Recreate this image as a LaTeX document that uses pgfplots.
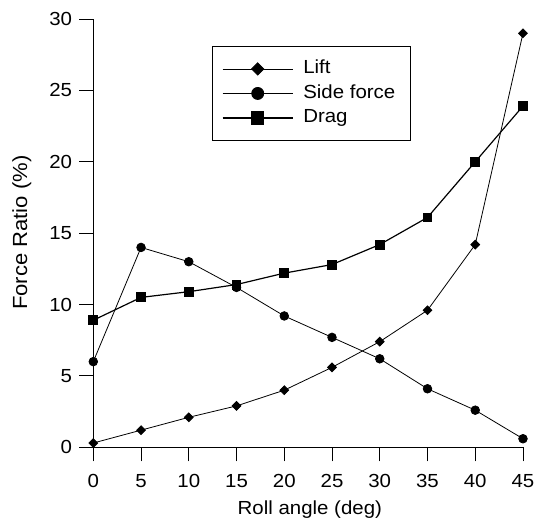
\documentclass[border=0pt]{standalone}
\usepackage{fontspec}
\setmainfont{Liberation Sans}[FakeStretch=1.08]
\usepackage{pgfplots}
\pgfplotsset{compat=1.18}

\pgfplotstableread{
angle lift side drag
0   0.3  6.0  8.9
5   1.2  14.0 10.5
10  2.1  13.0 10.9
15  2.9  11.2 11.4
20  4.0  9.2  12.2
25  5.6  7.7  12.8
30  7.4  6.2  14.2
35  9.6  4.1  16.1
40  14.2 2.6  20.0
45  29.0 0.6  23.9
}\forcedata

\begin{document}
\begin{tikzpicture}
\begin{axis}[
  scale only axis,
  width=429.7bp, height=428.3bp,
  xmin=0, xmax=45, ymin=0, ymax=30,
  axis x line=bottom, axis y line=left,
  axis line style={-, line width=0.9bp, black},
  xtick={0,5,...,45}, ytick={0,5,...,30},
  tick align=outside, major tick length=14bp,
  tick style={line width=0.9bp, black},
  /pgf/number format/assume math mode=true,
  font=\fontsize{19}{23}\selectfont,
  xticklabel style={anchor=north, inner sep=0pt},
  yticklabel style={anchor=east, inner sep=0pt},
  xticklabel shift=12.5bp,
  yticklabel shift=7bp,
  xlabel={Roll angle (deg)},
  ylabel={Force Ratio (\%)},
  xlabel style={at={(axis description cs:0.504,-0.158)}, anchor=base, inner sep=0pt},
  ylabel style={at={(axis description cs:-0.166,0.501)}, anchor=center, inner sep=0pt,
                font=\fontsize{20.5}{24}\selectfont},
  clip=false,
  legend cell align=left,
  % legend sample: a 70bp line with a slightly larger marker in its middle
  legend image code/.code={
    \path (0bp,0bp);
    \draw[mark repeat=2, mark phase=2, #1, every mark/.append style={scale=1.4}]
      plot coordinates {(5bp,0bp) (40bp,0bp) (75bp,0bp)};
  },
  legend style={
    at={(axis description cs:0.2755,0.937)}, anchor=north west,
    draw=black, line width=0.9bp,
    inner xsep=5bp, inner ysep=10.25bp, row sep=0pt,
    font=\fontsize{19}{23}\selectfont,
    nodes={inner xsep=10bp, inner ysep=3bp, text height=14bp, text depth=4.5bp, anchor=west},
  },
]
% invisible frame fixing the page size around the axis
\path (rel axis cs:-0.2171,-0.1767) rectangle (rel axis cs:1.0303,1.0444);

\addplot[black, line width=0.8bp, mark=square*, mark size=3.1bp,
         mark options={solid, fill=black, rotate=45}] table[x=angle, y=lift] {\forcedata};
\addlegendentry{Lift}
\addplot[black, line width=0.8bp, mark=*, mark size=4.3bp,
         mark options={solid, fill=black}] table[x=angle, y=side] {\forcedata};
\addlegendentry{Side force}
\addplot[black, line width=1.2bp, mark=square*, mark size=4.35bp,
         mark options={solid, fill=black}] table[x=angle, y=drag] {\forcedata};
\addlegendentry{Drag}
\end{axis}
\end{tikzpicture}
\end{document}
